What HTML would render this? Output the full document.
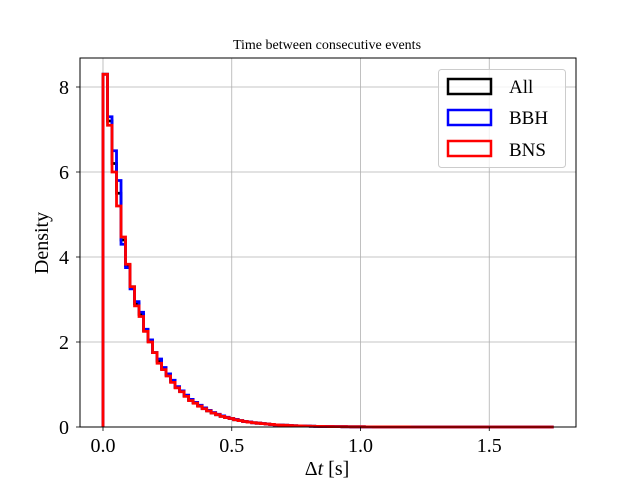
<!DOCTYPE html>
<html><head><meta charset="utf-8"><style>
body{margin:0;background:#fff}
svg{font-family:"Liberation Serif",serif}
</style></head><body>
<svg id="chart" width="640" height="480" viewBox="0 0 640 480">
<rect width="640" height="480" fill="#fff"/>
<text x="327" y="49" font-size="14" text-anchor="middle">Time between consecutive events</text>
<g id="grid"></g><g id="series"></g><g id="axes"></g>
<text x="327" y="475" font-size="20" text-anchor="middle">Δ<tspan font-style="italic">t</tspan> [s]</text>
<text transform="translate(48,243) rotate(-90)" font-size="20" text-anchor="middle">Density</text>
<g>
<rect x="438.5" y="69.5" width="127" height="98" rx="3" fill="#fff" fill-opacity="0.8" stroke="#ccc"/>
<rect x="448" y="79" width="43" height="15" fill="none" stroke="#000" stroke-width="2.5"/>
<text x="509" y="93" font-size="19">All</text>
<rect x="448" y="110" width="43" height="15" fill="none" stroke="#00f" stroke-width="2.5"/>
<text x="509" y="124" font-size="19">BBH</text>
<rect x="448" y="141" width="43" height="15" fill="none" stroke="#f00" stroke-width="2.5"/>
<text x="509" y="156" font-size="19">BNS</text>
</g>
</svg>
<script>
const binWidth = 0.0175;
const bnsValues = [8.3,7.1,6.0,5.2,4.47,3.83,3.3,2.85,2.6,2.25,2.0,1.75,1.5,1.35,1.2,1.05,0.92,0.83,0.72,0.62,0.56,0.49,0.43,0.38,0.33,0.29,0.25,0.22,0.2,0.17,0.15,0.13,0.115,0.1,0.09,0.08,0.07,0.06,0.05,0.045,0.04,0.035,0.03,0.026,0.022,0.02,0.017,0.015,0.013,0.011,0.01,0.009,0.008,0.007,0.006,0.005,0.004,0.004,0.003,0.003,0.002,0.002,0.002,0.001,0.001,0.001,0.001,0.001,0,0,0,0,0,0,0,0,0,0,0,0,0,0,0,0,0,0,0,0,0,0,0,0,0,0,0,0,0,0,0,0];
const bbhValues = [8.3,7.3,6.5,5.8,4.3,3.75,3.25,2.95,2.7,2.3,2.05,1.75,1.6,1.4,1.25,1.1,0.95,0.85,0.75,0.65,0.58,0.51,0.45,0.39,0.34,0.3,0.26,0.23,0.2,0.18,0.15,0.13,0.12,0.1,0.09,0.08,0.07,0.06,0.05,0.045,0.04,0.035,0.03,0.026,0.022,0.02,0.017,0.015,0.013,0.011,0.01,0.009,0.008,0.007,0.006,0.005,0.004,0.004,0.003,0.003,0.002,0.002,0.002,0.001,0.001,0.001,0.001,0.001,0,0,0,0,0,0,0,0,0,0,0,0,0,0,0,0,0,0,0,0,0,0,0,0,0,0,0,0,0,0,0,0];
const allValues = [8.3,7.2,6.2,5.5,4.4,3.8,3.3,2.9,2.65,2.27,2.02,1.75,1.55,1.37,1.22,1.07,0.93,0.84,0.73,0.63,0.57,0.5,0.44,0.38,0.33,0.29,0.25,0.22,0.2,0.17,0.15,0.13,0.115,0.1,0.09,0.08,0.07,0.06,0.05,0.045,0.04,0.035,0.03,0.026,0.022,0.02,0.017,0.015,0.013,0.011,0.01,0.009,0.008,0.007,0.006,0.005,0.004,0.004,0.003,0.003,0.002,0.002,0.002,0.001,0.001,0.001,0.001,0.001,0,0,0,0,0,0,0,0,0,0,0,0,0,0,0,0,0,0,0,0,0,0,0,0,0,0,0,0,0,0,0,0];
const xTicks = [0.0,0.5,1.0,1.5];
const xTickLabels = ["0.0","0.5","1.0","1.5"];
const yTicks = [0,2,4,6,8];
const yTickLabels = ["0","2","4","6","8"];
const NS="http://www.w3.org/2000/svg";
const L=80,R=576,T=58,B=427;
const xs=v=>103+v*257.5;
const ys=v=>B-v*42.5;
function mk(tag,attrs,parent){const e=document.createElementNS(NS,tag);for(const k in attrs)e.setAttribute(k,attrs[k]);parent.appendChild(e);return e;}
const grid=document.getElementById('grid'),axes=document.getElementById('axes'),series=document.getElementById('series');
xTicks.forEach((t,i)=>{
 const g=mk('line',{x1:xs(t),x2:xs(t),y1:T,y2:B,stroke:'#b0b0b0','stroke-width':0.8},grid);
 
 
 mk('line',{x1:xs(t),x2:xs(t),y1:B,y2:B+4,stroke:'#000','stroke-width':0.8},axes);
 const tx=mk('text',{x:xs(t),y:B+25,'font-size':20,'text-anchor':'middle'},axes);
 tx.textContent=xTickLabels[i];
 
 
});
yTicks.forEach((t,i)=>{
 const g=mk('line',{x1:L,x2:R,y1:ys(t),y2:ys(t),stroke:'#b0b0b0','stroke-width':0.8},grid);
 
 
 mk('line',{x1:L-4,x2:L,y1:ys(t),y2:ys(t),stroke:'#000','stroke-width':0.8},axes);
 const tx=mk('text',{x:L-11,y:ys(t)+7,'font-size':20,'text-anchor':'end'},axes);
 tx.textContent=yTickLabels[i];
 
 
});
const frame=mk('rect',{x:L,y:T,width:R-L,height:B-T,fill:'none',stroke:'#000','stroke-width':1},axes);


function step(vals,color,name){
 let d='M'+xs(0)+','+ys(0);
 vals.forEach((v,i)=>{d+=' L'+xs(i*binWidth)+','+ys(v)+' L'+xs((i+1)*binWidth)+','+ys(v);});
 d+=' L'+xs(vals.length*binWidth)+','+ys(0);
 const p=mk('path',{d:d,fill:'none',stroke:color,'stroke-width':2.8,'stroke-linejoin':'miter'},series);
 
 
}
step(allValues,'#000','histogram-all');
step(bbhValues,'#00f','histogram-bbh');
step(bnsValues,'#f00','histogram-bns');
</script>
</body></html>
